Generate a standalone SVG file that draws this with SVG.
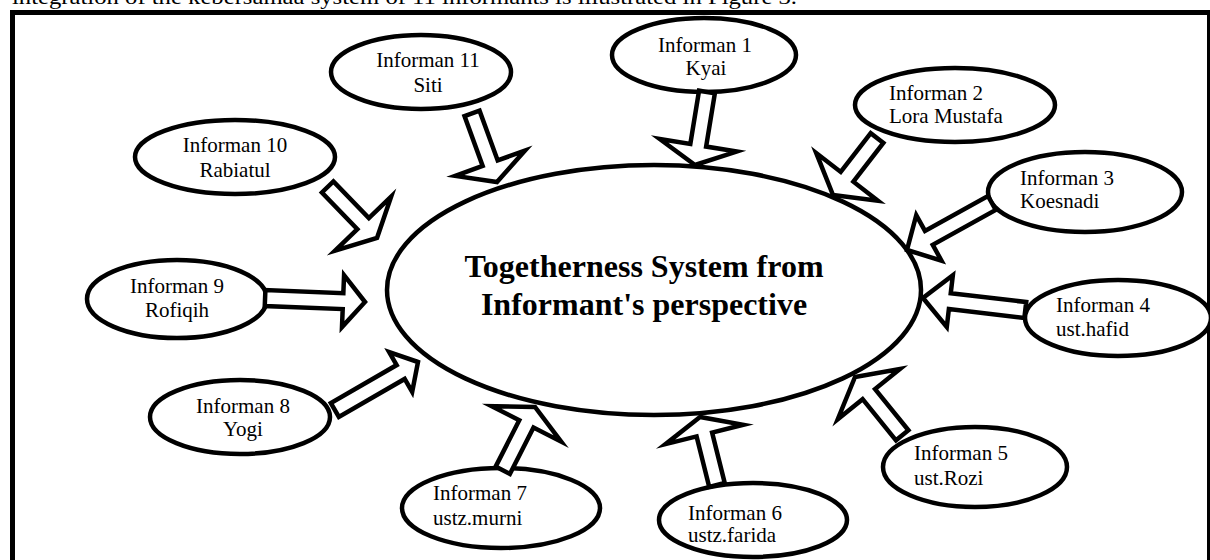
<svg xmlns="http://www.w3.org/2000/svg" width="1210" height="560" viewBox="0 0 1210 560">
<style>
.bg{fill:#fff}
.frame{fill:none;stroke:#000;stroke-width:5}
.el{fill:#fff;stroke:#000;stroke-width:4.5}
.arr{fill:#fff;stroke:#000;stroke-width:4.5;stroke-linejoin:miter;stroke-miterlimit:10}
.t{font-family:"Liberation Serif","Times New Roman",serif;font-size:21px;fill:#000}
.c{text-anchor:middle}
.title{font-family:"Liberation Serif","Times New Roman",serif;font-size:32px;font-weight:bold;fill:#000;text-anchor:middle}
</style>
<rect class="bg" x="0" y="0" width="1210" height="560"/>
<text class="t" x="12" y="4" textLength="785" lengthAdjust="spacingAndGlyphs">integration of the kebersamaa system of 11 informants is illustrated in Figure 3.</text>
<rect class="frame" x="12.5" y="12.5" width="1197" height="600"/>

<g id="center">
<ellipse class="el" cx="654" cy="290" rx="267" ry="125"/>
<text class="title" x="644" y="277">Togetherness System from</text>
<text class="title" x="644" y="315">Informant's perspective</text>
</g>

<g id="n1"><ellipse class="el" cx="704" cy="55" rx="92" ry="37"/>
<text class="t c" x="705" y="52">Informan 1</text><text class="t c" x="706" y="75">Kyai</text></g>
<g id="n2"><ellipse class="el" cx="955" cy="105" rx="100" ry="37"/>
<text class="t" x="889" y="100">Informan 2</text><text class="t" x="889" y="123">Lora Mustafa</text></g>
<g id="n3"><ellipse class="el" cx="1085" cy="192" rx="97" ry="40"/>
<text class="t" x="1020" y="185">Informan 3</text><text class="t" x="1020" y="208">Koesnadi</text></g>
<g id="n4"><ellipse class="el" cx="1118" cy="318" rx="93" ry="38"/>
<text class="t" x="1056" y="312">Informan 4</text><text class="t" x="1056" y="336">ust.hafid</text></g>
<g id="n5"><ellipse class="el" cx="975" cy="467" rx="92" ry="40"/>
<text class="t" x="914" y="460">Informan 5</text><text class="t" x="914" y="485">ust.Rozi</text></g>
<g id="n6"><ellipse class="el" cx="753" cy="520" rx="94" ry="37"/>
<text class="t" x="688" y="520">Informan 6</text><text class="t" x="688" y="542">ustz.farida</text></g>
<g id="n7"><ellipse class="el" cx="501" cy="508" rx="99" ry="40"/>
<text class="t" x="433" y="500">Informan 7</text><text class="t" x="433" y="525">ustz.murni</text></g>
<g id="n8"><ellipse class="el" cx="240" cy="417" rx="90" ry="37"/>
<text class="t c" x="243" y="413">Informan 8</text><text class="t c" x="243" y="436">Yogi</text></g>
<g id="n9"><ellipse class="el" cx="177" cy="299" rx="90" ry="39"/>
<text class="t c" x="177" y="293">Informan 9</text><text class="t c" x="177" y="317">Rofiqih</text></g>
<g id="n10"><ellipse class="el" cx="235" cy="157" rx="100" ry="37"/>
<text class="t c" x="235" y="152">Informan 10</text><text class="t c" x="235" y="177">Rabiatul</text></g>
<g id="n11"><ellipse class="el" cx="421" cy="72" rx="90" ry="37"/>
<text class="t c" x="428" y="67">Informan 11</text><text class="t c" x="428" y="92">Siti</text></g>

<g id="connectors">
<path class="arr" transform="translate(695,165) rotate(99.3)" d="M0,0 L-20,-39 L-20,-8 L-74,-8 L-74,8 L-20,8 L-20,39 Z"/>
<path class="arr" transform="translate(833,195) rotate(127.7)" d="M0,0 L-23,-39 L-23,-8 L-72,-8 L-72,8 L-23,8 L-23,39 Z"/>
<path class="arr" transform="translate(907,250) rotate(151)" d="M0,0 L-25,-26 L-25,-8 L-97,-8 L-97,8 L-25,8 L-25,26 Z"/>
<path class="arr" transform="translate(923,298) rotate(186.7)" d="M0,0 L-27,-26 L-27,-8 L-103,-8 L-103,8 L-27,8 L-27,26 Z"/>
<path class="arr" transform="translate(855,377) rotate(231)" d="M0,0 L-22,-40 L-22,-8 L-75,-8 L-75,8 L-22,8 L-22,40 Z"/>
<path class="arr" transform="translate(700,417) rotate(256)" d="M0,0 L-18,-40 L-18,-8 L-70,-8 L-70,8 L-18,8 L-18,40 Z"/>
<path class="arr" transform="translate(535,407) rotate(-63)" d="M0,0 L-19,-39 L-19,-8 L-71,-8 L-71,8 L-19,8 L-19,39 Z"/>
<path class="arr" transform="translate(418,362) rotate(-30)" d="M0,0 L-20,-23 L-20,-8 L-96,-8 L-96,8 L-20,8 L-20,23 Z"/>
<path class="arr" transform="translate(365,302) rotate(2.3)" d="M0,0 L-22,-26 L-22,-8 L-100,-8 L-100,8 L-22,8 L-22,26 Z"/>
<path class="arr" transform="translate(377,238) rotate(46)" d="M0,0 L-20,-39 L-20,-8 L-71,-8 L-71,8 L-20,8 L-20,39 Z"/>
<path class="arr" transform="translate(497,182) rotate(70)" d="M0,0 L-20,-37 L-20,-8 L-73,-8 L-73,8 L-20,8 L-20,37 Z"/>
</g>
</svg>
